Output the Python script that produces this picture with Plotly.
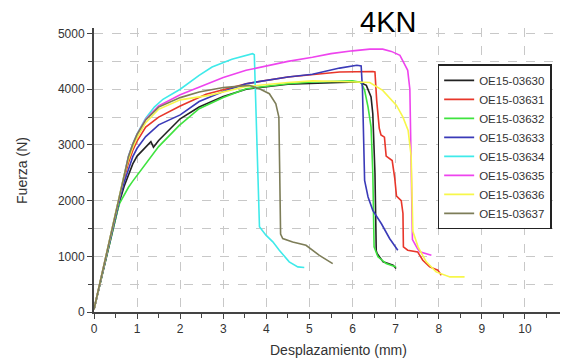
import plotly.graph_objects as go

# ---- data ----
names = ["OE15-03630", "OE15-03631", "OE15-03632", "OE15-03633",
         "OE15-03634", "OE15-03635", "OE15-03636", "OE15-03637"]
colors = ["#222222", "#e8362a", "#3fe33f", "#3a3ab8",
          "#3feaea", "#ee44ee", "#f7f74a", "#7d7d58"]

x_03630 = [0, 0.1, 0.2, 0.3, 0.4, 0.5, 0.6, 0.7, 0.8, 0.9, 1.0, 1.2, 1.32, 1.38, 1.5, 2.0, 2.44, 3.0, 3.53, 4.5, 5.07, 5.7, 6.16, 6.32, 6.43, 6.47, 6.52, 6.55, 6.57, 6.71, 6.94, 7.01]
y_03630 = [50, 380, 720, 1060, 1380, 1690, 2000, 2260, 2480, 2660, 2800, 2970, 3060, 2960, 3080, 3470, 3680, 3870, 4000, 4090, 4110, 4120, 4130, 4070, 3860, 3560, 2500, 1100, 1050, 900, 840, 780]

x_03631 = [0, 0.1, 0.2, 0.3, 0.4, 0.5, 0.6, 0.7, 0.8, 0.9, 1.0, 1.2, 1.5, 2.0, 2.6, 3.53, 4.5, 5.07, 5.7, 6.47, 6.52, 6.56, 6.62, 6.66, 6.74, 6.78, 6.92, 6.98, 7.02, 7.13, 7.17, 7.18, 7.28, 7.51, 7.63, 7.79, 7.98, 8.06]
y_03631 = [50, 390, 730, 1070, 1400, 1720, 2080, 2400, 2680, 2900, 3070, 3320, 3500, 3700, 3910, 4100, 4220, 4265, 4310, 4320, 4310, 3800, 3300, 3180, 3140, 2800, 2720, 2400, 2080, 2000, 1770, 1170, 1110, 1080, 930, 810, 750, 660]

x_03632 = [0, 0.1, 0.2, 0.3, 0.4, 0.5, 0.55, 0.6, 0.7, 0.8, 0.9, 1.05, 1.25, 1.43, 1.5, 1.98, 2.44, 3.0, 3.53, 4.5, 5.07, 6.0, 6.2, 6.28, 6.36, 6.43, 6.47, 6.5, 6.59, 6.78, 7.01]
y_03632 = [50, 380, 720, 1060, 1380, 1690, 1840, 1960, 2110, 2240, 2350, 2500, 2700, 2900, 2970, 3350, 3650, 3850, 4010, 4100, 4130, 4150, 4120, 3980, 3680, 3320, 2500, 1170, 990, 870, 810]

x_03633 = [0, 0.1, 0.2, 0.3, 0.4, 0.5, 0.6, 0.7, 0.8, 0.9, 1.0, 1.2, 1.5, 2.0, 2.44, 3.0, 3.53, 4.5, 5.07, 5.7, 6.1, 6.2, 6.23, 6.26, 6.28, 6.36, 6.47, 6.67, 6.86, 7.05]
y_03633 = [50, 385, 725, 1065, 1390, 1700, 2040, 2330, 2580, 2790, 2940, 3150, 3360, 3540, 3780, 3960, 4100, 4220, 4270, 4380, 4430, 4420, 4000, 3000, 2364, 2065, 1825, 1585, 1320, 1110]

x_03634 = [0, 0.1, 0.2, 0.3, 0.4, 0.5, 0.6, 0.7, 0.8, 0.9, 1.0, 1.2, 1.4, 1.6, 2.0, 2.44, 2.74, 3.2, 3.5, 3.68, 3.72, 3.76, 3.8, 3.84, 3.99, 4.15, 4.3, 4.53, 4.73, 4.88]
y_03634 = [50, 400, 750, 1100, 1430, 1760, 2150, 2500, 2800, 3020, 3200, 3480, 3680, 3820, 4000, 4250, 4400, 4540, 4610, 4640, 4620, 3500, 2540, 1530, 1380, 1260, 1110, 900, 810, 800]

x_03635 = [0, 0.1, 0.2, 0.3, 0.4, 0.5, 0.6, 0.7, 0.8, 0.9, 1.0, 1.2, 1.5, 2.0, 2.44, 3.0, 3.53, 4.0, 4.5, 5.07, 5.5, 6.0, 6.4, 6.7, 6.9, 7.1, 7.28, 7.33, 7.35, 7.37, 7.39, 7.5, 7.56, 7.83]
y_03635 = [50, 400, 750, 1100, 1430, 1760, 2150, 2500, 2790, 3010, 3190, 3460, 3700, 3900, 4040, 4210, 4340, 4420, 4500, 4575, 4640, 4690, 4720, 4720, 4680, 4610, 4340, 4000, 2800, 1600, 1300, 1150, 1080, 1020]

x_03636 = [0, 0.1, 0.2, 0.3, 0.4, 0.5, 0.6, 0.7, 0.8, 0.9, 1.0, 1.2, 1.5, 2.0, 2.67, 3.53, 4.5, 5.07, 5.7, 6.4, 6.7, 7.02, 7.17, 7.29, 7.36, 7.38, 7.4, 7.52, 7.71, 7.94, 8.26, 8.6]
y_03636 = [50, 395, 740, 1085, 1415, 1740, 2120, 2460, 2740, 2960, 3130, 3400, 3640, 3810, 3890, 4050, 4120, 4150, 4140, 4120, 3980, 3710, 3500, 3260, 2800, 1800, 1450, 1170, 900, 720, 630, 630]

x_03637 = [0, 0.1, 0.2, 0.3, 0.4, 0.5, 0.6, 0.7, 0.8, 0.9, 1.0, 1.2, 1.5, 2.0, 2.44, 3.0, 3.6, 3.84, 4.07, 4.22, 4.29, 4.31, 4.33, 4.38, 4.61, 4.92, 5.08, 5.23, 5.54]
y_03637 = [50, 400, 750, 1100, 1430, 1760, 2150, 2500, 2790, 3010, 3190, 3450, 3680, 3850, 3950, 4030, 4070, 4010, 3920, 3740, 3500, 2500, 1400, 1320, 1257, 1197, 1108, 1018, 869]

xs = [x_03630, x_03631, x_03632, x_03633, x_03634, x_03635, x_03636, x_03637]
ys = [y_03630, y_03631, y_03632, y_03633, y_03634, y_03635, y_03636, y_03637]

title_text = "4KN"
x_title = "Desplazamiento (mm)"
y_title = "Fuerza (N)"

fig = go.Figure()
for n, c, x, y in zip(names, colors, xs, ys):
    fig.add_trace(go.Scatter(x=x, y=y, mode="lines", name=n,
                             line=dict(color=c, width=1.6)))

grid = dict(showgrid=True, gridcolor="#c8c8c8", gridwidth=1, griddash="dash")

fig.update_layout(
    width=560, height=352,
    margin=dict(l=86, r=0, t=20, b=48),
    paper_bgcolor="white", plot_bgcolor="white",
    font=dict(family="Arial, Liberation Sans, sans-serif", color="#333"),
    showlegend=True,
    legend=dict(x=0.725, y=0.872, xanchor="left", yanchor="top",
                bgcolor="white", bordercolor="#222", borderwidth=1.5,
                font=dict(size=11.5, color="#333"),
                tracegroupgap=0, itemwidth=30),
    xaxis=dict(range=[0, 11], dtick=1, tick0=0, ticks="outside", ticklen=5,
               tickcolor="#444", showline=True, linecolor="#444", linewidth=2,
               zeroline=False, tickfont=dict(size=12, color="#333"),
               minor=dict(dtick=0.5, ticks="outside", ticklen=4, tickcolor="#444", showgrid=False),
               **grid),
    yaxis=dict(range=[0, 5100], dtick=1000, tick0=0, ticks="outside", ticklen=5,
               tickcolor="#444", showline=True, linecolor="#444", linewidth=2,
               zeroline=False, tickfont=dict(size=12, color="#333"),
               minor=dict(dtick=500, ticks="outside", ticklen=4, tickcolor="#444",
                          showgrid=True, gridcolor="#c8c8c8", griddash="dash"),
               **grid),
    annotations=[
        dict(text=title_text, xref="paper", yref="paper", x=0.62, y=1.02,
             xanchor="center", yanchor="middle", showarrow=False,
             font=dict(size=29, color="black")),
        dict(text=x_title, xref="paper", yref="paper", x=0.515, y=-0.135,
             xanchor="center", yanchor="middle", showarrow=False,
             font=dict(size=14, color="#333")),
        dict(text=y_title, xref="paper", yref="paper", x=-0.152, y=0.5,
             xanchor="center", yanchor="middle", showarrow=False, textangle=-90,
             font=dict(size=14, color="#333")),
    ],
)

fig.write_html("out.html")
